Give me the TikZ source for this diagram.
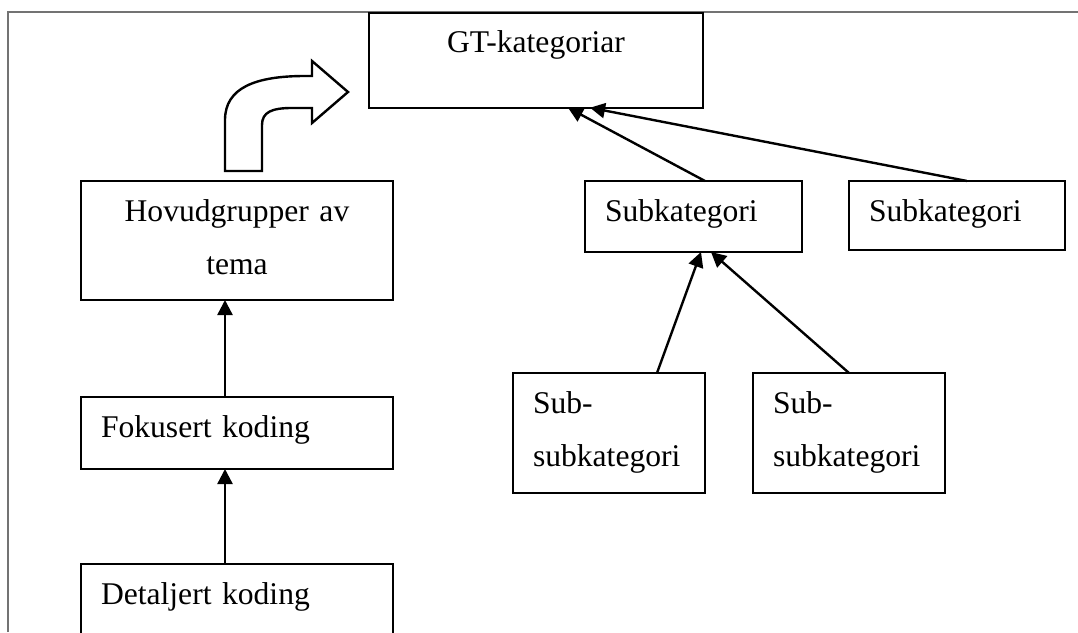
\documentclass[tikz,border=0pt]{standalone}
\usepackage{fontspec}
\setmainfont{Liberation Serif}
\usepackage{tikz}
\usetikzlibrary{arrows.meta, positioning}

\begin{document}
\begin{tikzpicture}[
    x=1pt, y=-1pt,
    node distance=95pt,
    box/.style={draw, line width=2.4pt, outer sep=0pt, inner xsep=20pt, inner ysep=0pt, text height=40pt, font=\fontsize{31.6}{53}\selectfont},
    link/.style={line width=2.4pt, -{Triangle[length=15pt, width=15pt]}},
    frame/.style={draw=black!55, line width=1.2pt},
]
\useasboundingbox (0,0) rectangle (1078,632);

% page frame
\draw[frame] (8,632) -- (8,12) -- (1078,12);

% Left column: coding steps
\node[box, anchor=north west, text width=272pt, align=center, text depth=79pt] (hov) at (81,181) {Hovudgrupper av\\tema};
\node[box, below=97pt of hov, text width=272pt, align=left, text depth=32pt] (fok) {Fokusert koding};
\node[box, below=of fok, text width=272pt, align=left, text depth=32pt] (det) {Detaljert koding};

% Right side: categories
\node[box, anchor=north west, text width=294pt, align=center, text depth=55pt] (gt) at (369,12.7) {GT-kategoriar};
\node[box, anchor=north west, text width=177pt, align=left, text depth=31pt] (sub1) at (585,181) {Subkategori};
\node[box, right=47pt of sub1.north east, anchor=north west, text width=176pt, align=left, text depth=29pt] (sub2) {Subkategori};
\node[box, anchor=north west, text width=152pt, align=left, text depth=80pt] (ss1) at (513,373) {Sub-\\subkategori};
\node[box, right=48pt of ss1, text width=152pt, align=left, text depth=80pt] (ss2) {Sub-\\subkategori};

% Bent block arrow
\draw[line width=2.4pt, line join=miter] (225,171) -- (225,120)
    .. controls (225,88) and (255,76) .. (305,76) -- (312,76) -- (312,61)
    -- (348,92) -- (312,123) -- (312,108) -- (292,108)
    .. controls (272,108) and (262,112) .. (262,125) -- (262,171) -- cycle;

% Arrows up the hierarchy
\draw[link] ([xshift=-12pt]det.north) -- ([xshift=-12pt]fok.south);
\draw[link] ([xshift=-12pt]fok.north) -- ([xshift=-12pt]hov.south);
\draw[link] ([xshift=11.5pt]sub1.north) -- ([xshift=32pt]gt.south);
\draw[link] ([xshift=10pt]sub2.north) -- ([xshift=54pt]gt.south);
\draw[link] ([xshift=48pt]ss1.north) -- ([xshift=7.5pt]sub1.south);
\draw[link] (ss2.north) -- ([xshift=17.5pt]sub1.south);

\end{tikzpicture}
\end{document}
